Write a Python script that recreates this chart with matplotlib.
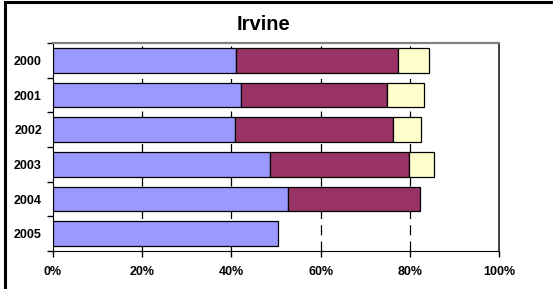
import matplotlib.pyplot as plt
import numpy as np
from matplotlib.lines import Line2D

plt.rcParams['font.family'] = ['Liberation Sans', 'DejaVu Sans']

years = ['2000', '2001', '2002', '2003', '2004', '2005']
# shares in percent
part_a = [41.0, 42.1, 40.8, 48.7, 52.8, 50.4]
part_b = [36.3, 32.8, 35.4, 31.1, 29.5, 0.0]
part_c = [7.1, 8.2, 6.2, 5.6, 0.0, 0.0]

colors = ['#9999FF', '#993366', '#FFFFCC']

fig = plt.figure(figsize=(5.53, 2.89), dpi=100)
ax = fig.add_axes([53 / 553, 1 - 251 / 289, 446 / 553, 208 / 289])

y = np.arange(len(years))
left = np.zeros(len(years))
for vals, col in zip([part_a, part_b, part_c], colors):
    vals = np.array(vals)
    mask = vals > 0
    ax.barh(y[mask], vals[mask], left=left[mask], height=0.72, color=col,
            edgecolor='black', linewidth=0.9, zorder=3)
    left += vals

ax.set_xlim(0, 100)
ax.set_ylim(len(years) - 0.5, -0.5)

# dashed gridlines
for gx in [20, 40, 60, 80]:
    ax.axvline(gx, color='black', linewidth=0.9, dashes=(8, 5), zorder=1)

ax.set_xticks([0, 20, 40, 60, 80, 100])
ax.set_xticklabels(['0%', '20%', '40%', '60%', '80%', '100%'],
                   fontsize=9, fontweight='bold')
ax.tick_params(axis='x', direction='out', length=4, width=1, pad=7)

ax.set_yticks(y)
ax.set_yticklabels(years, fontsize=9, fontweight='bold')
ax.tick_params(axis='y', which='major', length=0, pad=8)
ax.set_yticks(np.arange(-0.5, len(years)), minor=True)
ax.tick_params(axis='y', which='minor', direction='out', length=4, width=1)

ax.spines['left'].set_color('black')
ax.spines['bottom'].set_color('black')
ax.spines['top'].set_color('#808080')
ax.spines['top'].set_linewidth(1.6)
ax.spines['right'].set_color('#202020')
ax.spines['right'].set_linewidth(1.2)

fig.text(263 / 553, 1 - 25 / 289, 'Irvine', ha='center', va='center',
         fontsize=14.5, fontweight='bold')

# outer chart frame (left and top edges visible)
fig.add_artist(Line2D([5 / 553, 5 / 553], [0, 1 - 2 / 289], color='black',
                      linewidth=2.2, transform=fig.transFigure))
fig.add_artist(Line2D([5 / 553, 1], [1 - 2 / 289, 1 - 2 / 289], color='black',
                      linewidth=2.2, transform=fig.transFigure))

fig.savefig('out.png', dpi=100)
